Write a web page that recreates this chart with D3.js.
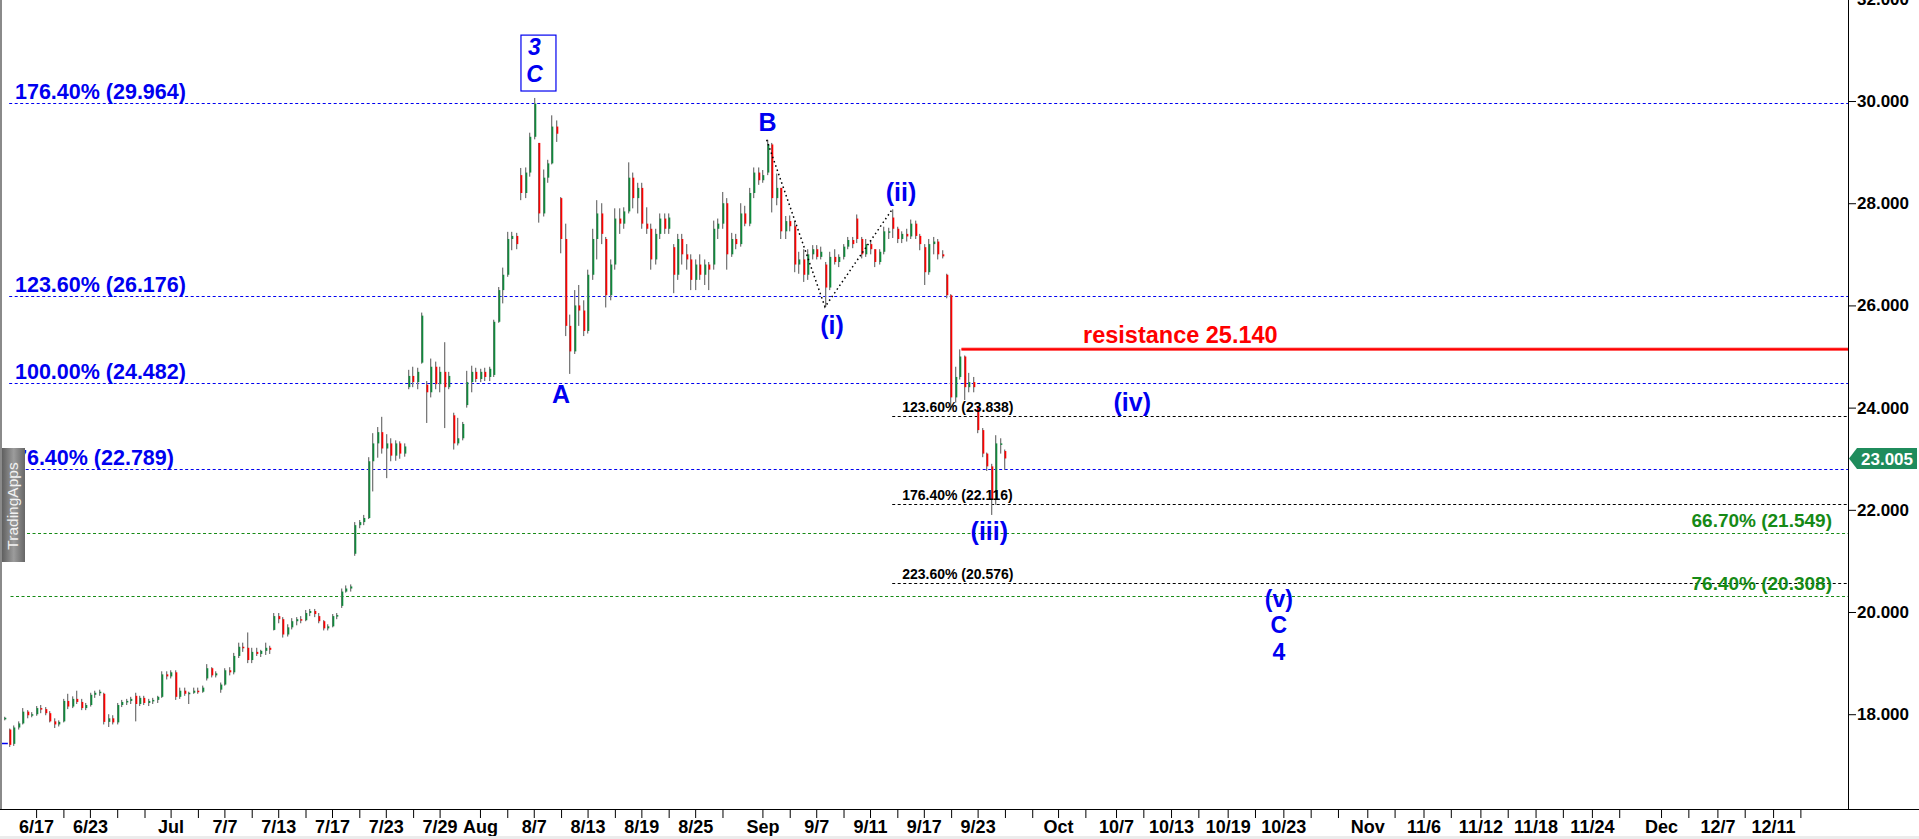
<!DOCTYPE html>
<html><head><meta charset="utf-8">
<script src="https://cdn.jsdelivr.net/npm/d3@7"></script>
<style>
html,body{margin:0;padding:0;background:#fff;overflow:hidden}
svg{display:block}
text{font-family:"Liberation Sans",Arial,Helvetica,sans-serif}
</style></head><body>
<svg id="c" width="1919" height="839"></svg>
<script>
// ---------------- DATA ----------------
// OHLC bars (open, high, low, close), oldest first
const bars = [
[17.90,17.95,17.88,17.93],[17.70,17.72,17.36,17.40],[17.42,17.78,17.38,17.74],[17.74,17.86,17.70,17.82],
[17.82,18.12,17.80,18.05],[18.05,18.08,17.92,17.98],[17.98,18.04,17.94,18.00],[18.00,18.16,17.97,18.12],
[18.12,18.18,18.02,18.10],[18.10,18.14,17.98,18.02],[18.02,18.06,17.84,17.86],[17.86,17.92,17.73,17.80],
[17.80,17.88,17.76,17.85],[17.86,18.30,17.84,18.26],[18.26,18.40,18.10,18.15],[18.15,18.35,18.12,18.30],
[18.30,18.46,18.20,18.24],[18.24,18.30,18.08,18.12],[18.12,18.22,18.08,18.18],[18.18,18.42,18.15,18.38],
[18.38,18.46,18.32,18.42],[18.42,18.48,18.36,18.44],[18.40,18.42,17.80,17.85],[17.85,18.00,17.75,17.92],
[17.92,17.98,17.80,17.84],[17.84,18.22,17.80,18.18],[18.18,18.28,18.14,18.24],[18.24,18.30,18.18,18.26],
[18.26,18.34,18.20,18.30],[18.36,18.42,17.86,18.20],[18.20,18.36,18.16,18.32],[18.32,18.36,18.18,18.22],
[18.22,18.30,18.16,18.26],[18.26,18.32,18.20,18.28],[18.28,18.36,18.22,18.34],[18.34,18.84,18.32,18.78],
[18.78,18.84,18.68,18.74],[18.74,18.86,18.70,18.82],[18.82,18.86,18.28,18.34],[18.34,18.52,18.30,18.46],
[18.46,18.52,18.36,18.40],[18.40,18.44,18.20,18.42],[18.42,18.52,18.40,18.46],[18.46,18.52,18.40,18.44],
[18.44,18.56,18.42,18.52],[18.70,18.98,18.66,18.90],[18.90,18.92,18.72,18.76],[18.76,18.84,18.72,18.80],
[18.48,18.62,18.42,18.58],[18.58,18.90,18.56,18.86],[18.86,18.92,18.76,18.82],[18.82,19.20,18.78,19.14],
[19.14,19.40,19.10,19.32],[19.32,19.40,19.22,19.30],[19.30,19.60,19.00,19.06],[19.06,19.30,19.00,19.22],
[19.22,19.30,19.14,19.18],[19.18,19.26,19.12,19.24],[19.24,19.40,19.16,19.30],[19.30,19.34,19.18,19.26],
[19.65,19.98,19.64,19.92],[19.92,19.98,19.78,19.86],[19.86,19.90,19.50,19.56],[19.56,19.76,19.52,19.70],
[19.70,19.88,19.66,19.82],[19.82,19.90,19.74,19.86],[19.86,19.92,19.78,19.84],[19.84,20.04,19.82,19.98],
[19.98,20.06,19.92,20.02],[20.02,20.06,19.90,19.96],[19.92,19.98,19.78,19.82],[19.82,19.84,19.64,19.68],
[19.68,19.76,19.64,19.72],[19.72,19.96,19.70,19.92],[19.92,19.98,19.86,19.94],[20.12,20.46,20.08,20.40],
[20.40,20.52,20.38,20.46],[20.46,20.54,20.40,20.50],[21.14,21.76,21.10,21.70],[21.70,21.80,21.64,21.76],
[21.76,21.90,21.70,21.84],[21.84,23.03,21.82,22.95],[22.95,23.50,22.36,23.30],[23.30,23.62,23.02,23.52],
[23.52,23.82,23.10,23.20],[23.20,23.48,22.62,23.30],[23.30,23.40,22.95,23.06],[23.06,23.36,22.96,23.30],
[23.30,23.34,23.00,23.10],[23.10,23.30,23.04,23.24],[24.40,24.74,24.36,24.62],[24.62,24.80,24.40,24.50],
[24.50,24.78,24.36,24.70],[24.88,25.86,24.86,25.80],[24.45,24.52,23.70,24.30],[24.30,24.96,24.20,24.80],
[24.80,24.90,24.36,24.46],[24.46,24.80,24.30,24.70],[24.70,25.28,23.60,24.40],[24.40,24.70,24.36,24.62],
[23.85,23.90,23.18,23.30],[23.30,23.80,23.26,23.40],[23.40,23.72,23.36,23.68],[24.05,24.72,24.00,24.50],
[24.50,24.82,24.30,24.70],[24.70,24.78,24.50,24.56],[24.56,24.76,24.50,24.70],[24.70,24.78,24.52,24.60],
[24.60,24.80,24.52,24.76],[24.64,25.72,24.60,25.68],[25.68,26.36,25.66,26.30],[26.30,26.74,26.04,26.60],
[26.60,27.44,26.56,27.30],[27.30,27.44,27.08,27.36],[27.36,27.42,27.10,27.20],[28.55,28.69,28.06,28.20],
[28.20,28.70,28.10,28.60],[28.60,29.38,28.52,29.30],[29.30,30.06,29.25,29.95],[29.18,29.18,27.62,27.80],
[27.80,28.66,27.74,28.50],[28.50,28.85,28.40,28.78],[28.78,29.72,28.76,29.50],[29.50,29.62,29.20,29.36],
[28.10,28.12,27.02,27.30],[27.30,27.60,25.40,25.60],[25.60,25.82,24.66,25.10],[25.10,26.30,25.05,26.00],
[26.00,26.40,25.60,25.90],[25.90,26.10,25.40,25.50],[25.50,26.70,25.45,26.60],[26.60,27.50,26.50,27.30],
[27.30,28.06,26.90,27.80],[27.80,28.00,27.20,27.40],[27.30,27.34,25.96,26.20],[26.20,26.90,26.10,26.80],
[26.80,27.90,26.70,27.70],[27.70,27.90,27.40,27.60],[27.60,27.92,27.50,27.84],[27.84,28.80,27.80,28.50],
[28.50,28.60,27.90,28.10],[28.10,28.40,27.80,28.30],[28.30,28.40,27.50,27.60],[27.60,27.92,27.40,27.50],
[27.50,27.60,26.70,26.90],[26.90,27.50,26.80,27.40],[27.40,27.80,27.30,27.70],[27.70,27.80,27.40,27.50],
[27.50,27.80,27.40,27.72],[27.14,27.20,26.24,26.60],[26.60,27.40,26.50,27.30],[27.30,27.40,26.80,27.00],
[27.00,27.20,26.70,26.90],[26.90,27.00,26.30,26.50],[26.50,26.90,26.30,26.80],[26.80,27.00,26.50,26.60],
[26.60,26.90,26.40,26.80],[26.80,26.85,26.30,26.70],[26.80,27.66,26.70,27.50],[27.50,27.70,27.30,27.60],
[27.60,28.22,27.50,28.00],[28.00,28.10,26.70,27.00],[27.00,27.42,26.95,27.30],[27.30,27.40,27.10,27.20],
[27.20,28.00,27.15,27.80],[27.80,27.95,27.55,27.60],[27.60,28.30,27.55,28.20],[28.20,28.70,28.10,28.60],
[28.60,28.70,28.36,28.45],[28.45,28.65,28.40,28.55],[28.60,29.24,28.55,29.15],[29.15,29.18,27.82,28.10],
[28.10,28.58,27.96,28.30],[28.30,28.30,27.30,27.45],[27.45,27.75,27.30,27.65],[27.65,27.76,27.45,27.55],
[27.55,27.65,26.65,26.80],[26.80,27.05,26.62,26.90],[26.90,27.10,26.46,26.60],[26.60,27.10,26.50,27.00],
[27.00,27.18,26.90,27.10],[27.10,27.18,26.90,26.95],[26.95,27.15,26.90,27.05],[26.80,26.85,25.97,26.35],
[26.35,27.05,26.30,26.95],[26.95,27.10,26.80,26.85],[26.85,27.00,26.75,26.95],[26.95,27.20,26.90,27.15],
[27.15,27.34,27.10,27.28],[27.28,27.34,27.12,27.20],[27.70,27.78,27.22,27.30],[27.30,27.34,26.92,27.00],
[27.00,27.30,26.95,27.20],[27.20,27.28,27.00,27.10],[27.10,27.10,26.75,26.85],[26.85,27.10,26.80,27.05],
[27.05,27.54,27.00,27.45],[27.45,27.52,27.30,27.45],[27.72,27.88,27.32,27.50],[27.50,27.54,27.22,27.30],
[27.30,27.45,27.22,27.40],[27.40,27.50,27.25,27.35],[27.35,27.68,27.30,27.60],[27.60,27.66,27.30,27.36],
[27.36,27.40,27.08,27.20],[27.14,27.20,26.40,26.65],[26.65,27.30,26.60,27.20],[27.20,27.34,27.00,27.25],
[27.25,27.30,26.90,27.00],[27.00,27.08,26.92,26.96],[26.60,26.62,26.14,26.20],[26.20,26.22,23.95,24.20],
[24.20,24.80,24.10,24.60],[24.60,25.14,24.55,25.00],[25.00,25.02,24.15,24.40],[24.40,24.68,24.30,24.50],
[24.50,24.60,24.30,24.40],[24.00,24.02,23.50,23.56],[23.56,23.60,23.03,23.10],[23.10,23.12,22.76,22.85],
[22.85,22.90,21.90,22.20],[22.20,23.46,22.10,23.30],[23.30,23.40,23.10,23.30],[23.15,23.18,22.78,23.005]
];
const lastPrice = 23.005;

// x axis: labels and their positions in trading-day slots (slot 0 = Mon 6/15)
const xTickLabels = ["6/17","6/23","Jul","7/7","7/13","7/17","7/23","7/29","Aug","8/7","8/13","8/19","8/25",
  "Sep","9/7","9/11","9/17","9/23","Oct","10/7","10/13","10/19","10/23","Nov","11/6","11/12","11/18","11/24",
  "Dec","12/7","12/11"];
const xTickSlots = [2,6,12,16,20,24,28,32,35,39,43,47,51,56,60,64,68,72,77.98,82.29,86.38,90.59,94.73,
  100.97,105.15,109.38,113.48,117.67,122.81,127.0,131.14];
const yTicks = [18,20,22,24,26,28,30,32];

// Fibonacci levels
const fibBlueLabels = ["176.40%","123.60%","100.00%","76.40%"];
const fibBlueValues = [29.964,26.176,24.482,22.789];
const fibBlackLabels = ["123.60%","176.40%","223.60%"];
const fibBlackValues = [23.838,22.116,20.576];
const fibGreenLabels = ["66.70%","76.40%"];
const fibGreenValues = [21.549,20.308];
const fibAnchorValue = 17.43;
const resistanceValue = 25.140;

// Elliott-wave annotations: [text, slot, price]
const waveLabels = [
  ["A",41.02,24.09],["B",56.38,29.41],["(i)",61.17,25.45],["(ii)",66.3,28.05],
  ["(iii)",72.87,21.40],["(iv)",83.5,23.94]
];
const targetLabels = [["(v)",94.4,20.09],["C",94.4,19.59],["4",94.4,19.06]];
const topBox = {slot:39.35, lines:["3","C"], prices:[30.90,30.37], top:31.29, bottom:30.196};
// dotted wave path: bar index + price
const wavePathBars = [170,183,198];
const wavePathPrices = [29.24,25.97,27.88];
const blackFibStartBar = 198;
const resistanceStartBar = 213;

// ---------------- LAYOUT ----------------
const FIRST_SLOT = -0.35, BARS_PER_SLOT = 3;
const plotL = 2, plotR = 1848, plotB = 809;
const svg = d3.select("#c");
const x = d3.scaleLinear().domain([-0.535,136.71]).range([plotL,plotR]);
const y = d3.scaleLinear().domain([16.145,31.977]).range([plotB,0]);
const barSlot = j => FIRST_SLOT + j / BARS_PER_SLOT;

svg.append("rect").attr("width",1919).attr("height",839).attr("fill","#fff");
svg.append("defs").append("clipPath").attr("id","plot").append("rect")
  .attr("x",plotL).attr("y",0).attr("width",plotR-plotL).attr("height",plotB);
const plot = svg.append("g").attr("clip-path","url(#plot)");

const BLUE="#0000f0", GREEN="#168a16", RED="#ff0000";
const font = "'Liberation Sans',Arial,sans-serif";

// fib lines
function hline(v,x0,color,dash,w){
  plot.append("line").attr("x1",x0).attr("x2",plotR).attr("y1",Math.round(y(v))+0.5).attr("y2",Math.round(y(v))+0.5)
    .attr("stroke",color).attr("stroke-width",w||1).attr("stroke-dasharray",dash||null);
}
fibBlueValues.forEach(v=>hline(v,x(0),BLUE,"3,2.5"));
fibGreenValues.forEach(v=>hline(v,x(0.1),GREEN,"3,2.5"));
fibBlackValues.forEach(v=>hline(v,x(barSlot(blackFibStartBar)),"#000","3,2.5"));
plot.append("line").attr("x1",plotL).attr("x2",x(-0.1)).attr("y1",Math.round(y(fibAnchorValue))+0.5)
  .attr("y2",Math.round(y(fibAnchorValue))+0.5).attr("stroke",BLUE).attr("stroke-width",1.5);

// bars
const barG = plot.append("g");
bars.forEach((b,j)=>{
  const [o,h,l,c]=b;
  const px = Math.round(x(barSlot(j)));
  const yh=y(h), yl=y(l);
  barG.append("rect").attr("x",px).attr("y",yh).attr("width",1.3).attr("height",Math.max(1,yl-yh)).attr("fill","#7a7a7a");
  const yo=y(o), yc=y(c);
  const top=Math.min(yo,yc), ht=Math.max(1.5,Math.abs(yo-yc));
  barG.append("rect").attr("x",px+0.6).attr("y",top).attr("width",1.7).attr("height",ht)
    .attr("fill", c>=o ? "#0f8a3c" : "#ff0000");
});

// dotted wave path
const wp = wavePathBars.map((j,i)=>[x(barSlot(j)), y(wavePathPrices[i])]);
plot.append("path").attr("d",d3.line()(wp)).attr("fill","none").attr("stroke","#000")
  .attr("stroke-width",1.5).attr("stroke-dasharray","1.5,3");

// fib labels
fibBlueValues.forEach((v,i)=>{
  plot.append("text").attr("x",x(0.43)).attr("y",y(v)-4).attr("fill",BLUE).attr("font-weight","bold")
    .attr("font-size",21.5).attr("font-family",font).text(`${fibBlueLabels[i]} (${v.toFixed(3)})`);
});
fibBlackValues.forEach((v,i)=>{
  plot.append("text").attr("x",x(barSlot(blackFibStartBar))+10).attr("y",y(v)-4).attr("fill","#000")
    .attr("font-weight","bold").attr("font-size",14).attr("font-family",font)
    .text(`${fibBlackLabels[i]} (${v.toFixed(3)})`);
});
fibGreenValues.forEach((v,i)=>{
  plot.append("text").attr("x",plotR-16).attr("y",y(v)-6).attr("text-anchor","end").attr("fill",GREEN)
    .attr("font-weight","bold").attr("font-size",19).attr("font-family",font)
    .text(`${fibGreenLabels[i]} (${v.toFixed(3)})`);
});

// resistance
const ry = y(resistanceValue);
plot.append("line").attr("x1",x(barSlot(resistanceStartBar))+2).attr("x2",plotR).attr("y1",ry).attr("y2",ry)
  .attr("stroke","#ff8080").attr("stroke-width",3.5);
plot.append("line").attr("x1",x(barSlot(resistanceStartBar))+2).attr("x2",plotR).attr("y1",ry).attr("y2",ry)
  .attr("stroke",RED).attr("stroke-width",2);
plot.append("text").attr("x",1083).attr("y",ry-6).attr("fill",RED).attr("font-weight","bold")
  .attr("font-size",23.5).attr("font-family",font).text("resistance " + resistanceValue.toFixed(3));

// wave labels
waveLabels.forEach(([t,s,p])=>{
  plot.append("text").attr("x",x(s)).attr("y",y(p)).attr("text-anchor","middle").attr("fill",BLUE)
    .attr("font-weight","bold").attr("font-size",25).attr("font-family",font).text(t);
});
targetLabels.forEach(([t,s,p])=>{
  plot.append("text").attr("x",x(s)).attr("y",y(p)).attr("text-anchor","middle").attr("fill",BLUE)
    .attr("font-weight","bold").attr("font-size",23).attr("font-family",font).text(t);
});
// boxed 3 / C
const bx = x(topBox.slot);
plot.append("rect").attr("x",bx-17.5).attr("y",y(topBox.top)).attr("width",35)
  .attr("height",y(topBox.bottom)-y(topBox.top)).attr("fill","#fff").attr("stroke",BLUE).attr("stroke-width",1.2);
topBox.lines.forEach((t,i)=>{
  plot.append("text").attr("x",bx-4).attr("y",y(topBox.prices[i])).attr("text-anchor","middle").attr("fill",BLUE)
    .attr("font-weight","bold").attr("font-style","italic").attr("font-size",23).attr("font-family",font).text(t);
});

// watermark
const grad = svg.select("defs").append("linearGradient").attr("id","wm").attr("x1","0").attr("x2","1");
grad.append("stop").attr("offset","0").attr("stop-color","#555");
grad.append("stop").attr("offset","0.55").attr("stop-color","#9c9c9c");
grad.append("stop").attr("offset","1").attr("stop-color","#666");
svg.append("rect").attr("x",0).attr("y",448).attr("width",25).attr("height",114).attr("fill","url(#wm)");
svg.append("text").attr("transform","translate(18,506) rotate(-90)").attr("text-anchor","middle")
  .attr("fill","#f2f2f2").attr("font-size",15.5).attr("font-family",font).text("TradingApps");

// left border
svg.append("rect").attr("x",0).attr("y",0).attr("width",2).attr("height",plotB).attr("fill","#8a8a8a");

// x axis
const labelMap = new Map(xTickSlots.map((s,i)=>[s,xTickLabels[i]]));
const allTicks = [];
xTickSlots.forEach((s,i)=>{
  allTicks.push(s);
  const next = i<xTickSlots.length-1 ? xTickSlots[i+1] : s+3.5;
  for(let t=s+2.03; t<next-1.2; t+=2.03) allTicks.push(t);
});
const xg = svg.append("g").attr("transform",`translate(0,${plotB})`)
  .call(d3.axisBottom(x).tickValues(allTicks).tickSize(9).tickPadding(2).tickFormat(d=>labelMap.get(d)||""));
xg.select(".domain").remove();
xg.selectAll("line").attr("stroke","#000");
xg.selectAll("text").attr("font-family",font).attr("font-weight","bold").attr("font-size",18).attr("fill","#000");
svg.append("line").attr("x1",0).attr("x2",1919).attr("y1",plotB+0.5).attr("y2",plotB+0.5).attr("stroke","#000");

// y axis
const yg = svg.append("g").attr("transform",`translate(${plotR},0)`)
  .call(d3.axisRight(y).tickValues(yTicks).tickSize(8).tickPadding(1).tickFormat(d3.format(".3f")));
yg.select(".domain").remove();
yg.selectAll("line").attr("stroke","#000");
yg.selectAll("text").attr("font-family",font).attr("font-weight","bold").attr("font-size",17).attr("fill","#000");
svg.append("line").attr("x1",plotR+0.5).attr("x2",plotR+0.5).attr("y1",0).attr("y2",plotB).attr("stroke","#000");

// last price tag
const py = y(lastPrice);
svg.append("path").attr("d",`M${plotR+1},${py} L${plotR+9},${py-10.5} L1917,${py-10.5} L1917,${py+10.5} L${plotR+9},${py+10.5} Z`)
  .attr("fill","#1f8c5c");
svg.append("text").attr("x",1913).attr("y",py).attr("dy","0.36em").attr("text-anchor","end").attr("fill","#fff")
  .attr("font-weight","bold").attr("font-size",17).attr("font-family",font).text(lastPrice.toFixed(3));

// bottom strip
svg.append("rect").attr("x",0).attr("y",836).attr("width",1919).attr("height",3).attr("fill","#ececec");
</script>
</body></html>
